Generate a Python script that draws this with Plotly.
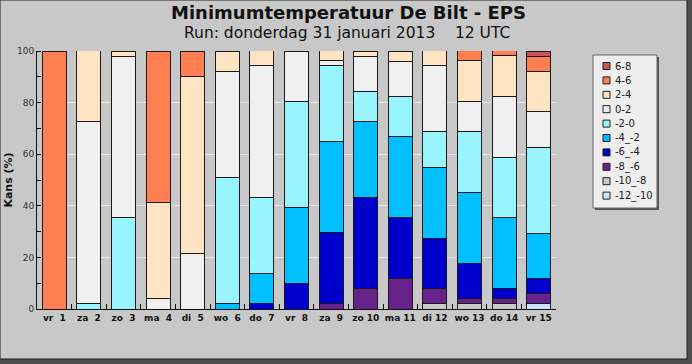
import plotly.graph_objects as go

days = ["vr", "za", "zo", "ma", "di", "wo", "do", "vr", "za", "zo", "ma", "di", "wo", "do", "vr"]
dates = [1, 2, 3, 4, 5, 6, 7, 8, 9, 10, 11, 12, 13, 14, 15]

series_names = ["-12_-10", "-10_-8", "-8_-6", "-6_-4", "-4_-2", "-2-0", "0-2", "2-4", "4-6", "6-8"]
series_colors = ["#cae1ff", "#c8c8c8", "#68228b", "#0000cd", "#00bfff", "#98f5ff",
                 "#f0f0f0", "#ffe4c4", "#ff7f50", "#cd5555"]

s_m12_m10 = [0, 0, 0, 0, 0, 0, 0, 0, 0, 0, 0, 0, 0, 0, 2.0]
s_m10_m8 = [0, 0, 0, 0, 0, 0, 0, 0, 0, 0, 0, 2.0, 2.0, 2.0, 0]
s_m8_m6 = [0, 0, 0, 0, 0, 0, 0, 0, 2.0, 7.8, 11.8, 5.9, 2.0, 2.0, 3.9]
s_m6_m4 = [0, 0, 0, 0, 0, 0, 2.0, 9.8, 27.5, 35.3, 23.5, 19.6, 13.7, 3.9, 5.9]
s_m4_m2 = [0, 0, 0, 0, 0, 2.0, 11.8, 29.4, 35.3, 29.4, 31.4, 27.5, 27.5, 27.5, 17.6]
s_m2_0 = [0, 2.0, 35.3, 0, 0, 49.0, 29.4, 41.2, 29.4, 11.8, 15.7, 13.7, 23.5, 23.5, 33.3]
s_0_2 = [0, 70.6, 62.7, 3.9, 21.6, 41.2, 51.0, 19.6, 2.0, 13.7, 13.7, 25.5, 11.8, 23.5, 13.7]
s_2_4 = [0, 27.5, 2.0, 37.3, 68.6, 7.8, 5.9, 0, 3.9, 2.0, 3.9, 5.9, 15.7, 15.7, 15.7]
s_4_6 = [100, 0, 0, 58.8, 9.8, 0, 0, 0, 0, 0, 0, 0, 3.9, 2.0, 5.9]
s_6_8 = [0, 0, 0, 0, 0, 0, 0, 0, 0, 0, 0, 0, 0, 0, 2.0]

series_values = [s_m12_m10, s_m10_m8, s_m8_m6, s_m6_m4, s_m4_m2, s_m2_0, s_0_2, s_2_4, s_4_6, s_6_8]

yticks = [0, 20, 40, 60, 80, 100]

NB = "\u00a0"
labels = [f"{d}{NB}{NB}{n}" if n < 10 else f"{d}{NB}{n}" for d, n in zip(days, dates)]

W, H = 692, 364
ML, MR, MT, MB = 37, 136, 51, 55
PW, PH = W - ML - MR, H - MT - MB


def px_x(px):
    return (px - ML) / PW


def px_y(py):
    return (H - MB - py) / PH


fig = go.Figure()
for name, color, vals in zip(series_names, series_colors, series_values):
    fig.add_trace(go.Bar(
        x=labels,
        y=[v if v else None for v in vals],
        name=name,
        marker=dict(color=color, line=dict(color="#1a1a1a", width=1)),
        showlegend=False,
    ))

shapes = [
    dict(type="rect", xref="paper", yref="paper",
         x0=px_x(0), x1=px_x(687), y0=px_y(359), y1=px_y(0),
         fillcolor="#c8c8c8", line=dict(color="#222", width=1), layer="below"),
    # legend shadow and box
    dict(type="rect", xref="paper", yref="paper",
         x0=px_x(595), x1=px_x(659), y0=px_y(210), y1=px_y(57),
         fillcolor="#555555", line=dict(width=0)),
    dict(type="rect", xref="paper", yref="paper",
         x0=px_x(593), x1=px_x(657), y0=px_y(208), y1=px_y(55),
         fillcolor="#eeeeee", line=dict(color="#666", width=1)),
]
annotations = [
    dict(text="<b>Minimumtemperatuur De Bilt - EPS</b>", xref="paper", yref="paper",
         x=px_x(348), y=px_y(13), xanchor="center", yanchor="middle", showarrow=False,
         font=dict(size=18, family="DejaVu Sans", color="#111")),
    dict(text="Run: donderdag 31 januari 2013" + NB * 4 + "12 UTC", xref="paper", yref="paper",
         x=px_x(347), y=px_y(33), xanchor="center", yanchor="middle", showarrow=False,
         font=dict(size=15.5, family="DejaVu Sans", color="#111")),
]

# manual legend (top entry = warmest class)
for i, (name, color) in enumerate(zip(reversed(series_names), reversed(series_colors))):
    cy = 66 + i * 14.4
    shapes.append(dict(type="rect", xref="paper", yref="paper",
                       x0=px_x(603), x1=px_x(610), y0=px_y(cy + 3.5), y1=px_y(cy - 3.5),
                       fillcolor=color, line=dict(color="#222", width=1)))
    annotations.append(dict(text=name, xref="paper", yref="paper",
                            x=px_x(613), y=px_y(cy), xanchor="left", yanchor="middle",
                            showarrow=False,
                            font=dict(size=10, family="DejaVu Sans", color="#222")))

fig.update_layout(
    width=W, height=H,
    barmode="stack",
    bargap=0.31,
    margin=dict(l=ML, r=MR, t=MT, b=MB, autoexpand=False),
    paper_bgcolor="#4d4d4d",
    plot_bgcolor="white",
    font=dict(family="DejaVu Sans", color="#222"),
    showlegend=False,
    xaxis=dict(
        type="category",
        automargin=False,
        tickangle=0,
        showline=True, linecolor="#111", linewidth=1,
        ticks="inside", tickson="boundaries", ticklen=5, tickcolor="#111",
        tickfont=dict(size=9, family="DejaVu Sans", weight="bold", color="#111"),
        showgrid=False,
    ),
    yaxis=dict(
        automargin=False,
        range=[0, 100],
        tickvals=yticks,
        showline=True, linecolor="#111", linewidth=1,
        ticks="", showgrid=True, gridcolor="#e4e4e4",
        tickfont=dict(size=9, family="DejaVu Sans", color="#333"),
        minor=dict(ticks="inside", dtick=10, ticklen=4, tickcolor="#111", showgrid=False),
        title=dict(text="Kans (%)", font=dict(size=11, family="DejaVu Sans", weight="bold", color="#111"),
                   standoff=2),
        zeroline=False,
    ),
    shapes=shapes,
    annotations=annotations,
)

fig.write_html("out.html", config={"displayModeBar": False, "staticPlot": True},
               post_script="document.body.style.margin='0';document.body.style.padding='0';")
